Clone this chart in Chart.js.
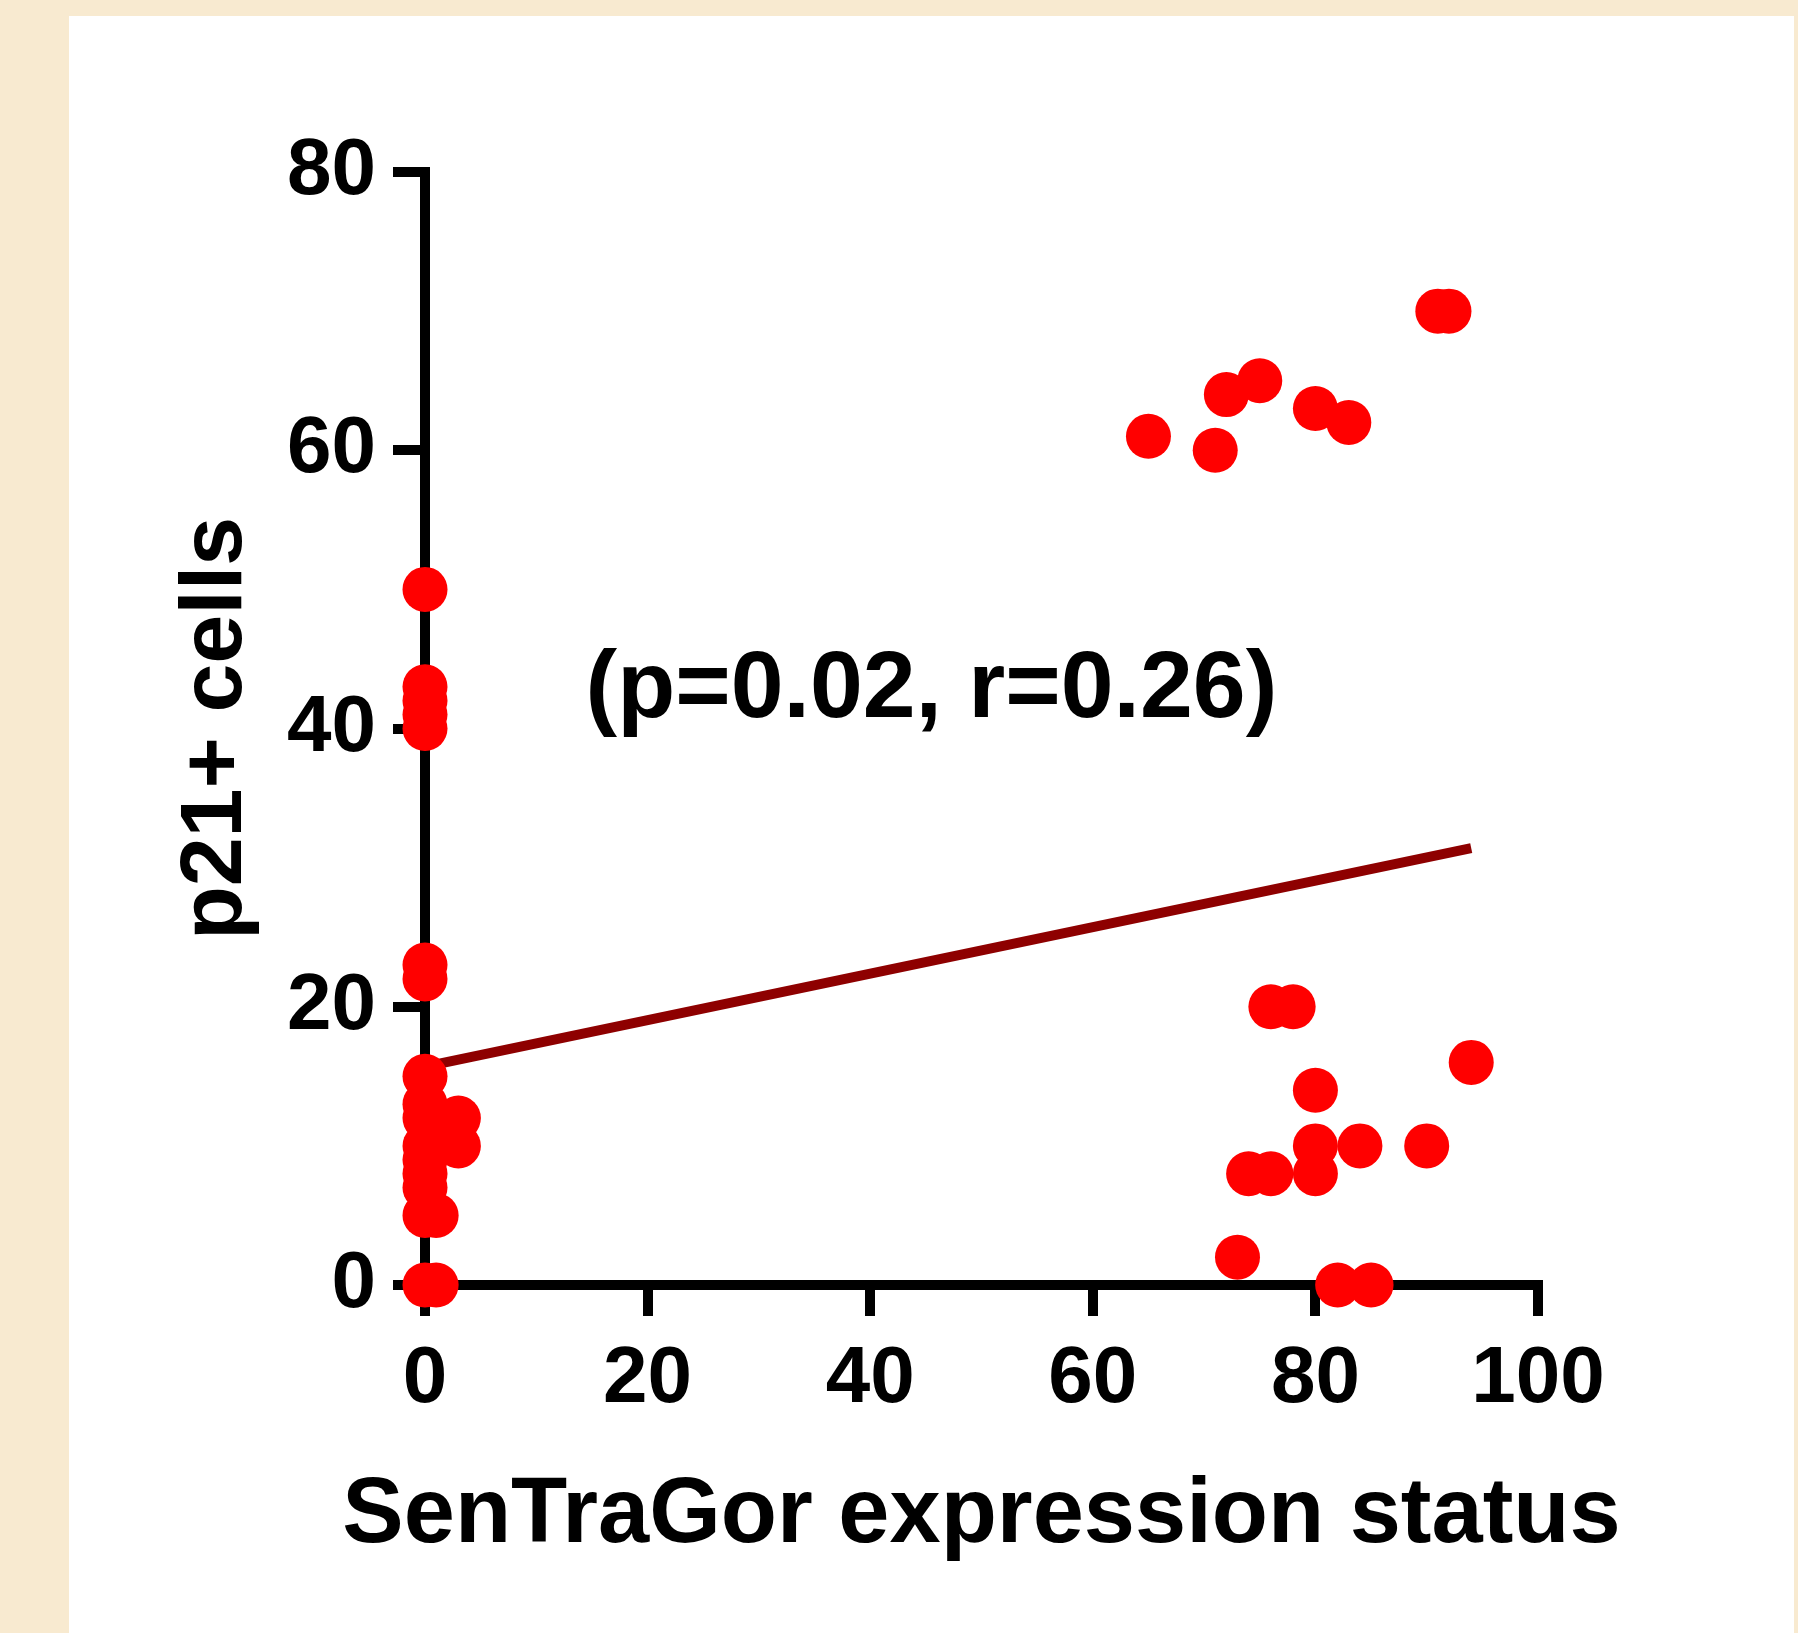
<!DOCTYPE html>
<html><head><meta charset="utf-8">
<script src="https://cdn.jsdelivr.net/npm/chart.js@4.4.1/dist/chart.umd.min.js"></script>
<style>
html,body{margin:0;padding:0;width:1798px;height:1633px;overflow:hidden;background:#f8ead0;}
#panel{position:absolute;left:69px;top:16px;width:1725px;height:1617px;background:#ffffff;}
#c{position:absolute;left:0;top:0;}
</style></head><body>
<div id="panel"></div>
<canvas id="c" width="1798" height="1633"></canvas>
<script>
// ---- data ----
const xValues = [0, 0, 0, 0, 0, 0, 0, 0, 0, 0, 0, 0, 0, 0, 3, 3, 0, 1, 0, 1,
                 65, 71, 72, 75, 80, 83, 91, 92,
                 76, 78, 94, 80, 80, 84, 90, 74, 76, 80, 73, 82, 85];
const yValues = [50, 43, 42, 41, 40, 23, 22, 15, 13, 12, 10, 9, 8, 7, 12, 10, 5, 5, 0, 0,
                 61, 60, 64, 65, 63, 62, 70, 70,
                 20, 20, 16, 14, 10, 10, 10, 8, 8, 8, 2, 0, 0];
const fitX = [0, 94];
const fitY = [15.7, 31.4];
const xTicks = [0, 20, 40, 60, 80, 100];
const yTicks = [0, 20, 40, 60, 80];
const xTitle = 'SenTraGor expression status';
const yTitle = 'p21+ cells';
const statsLabel = '(p=0.02, r=0.26)';

const FONT = '"Liberation Sans", Arial, Helvetica, sans-serif';

const points = xValues.map((x, i) => ({x: x, y: yValues[i]}));
const fitLine = fitX.map((x, i) => ({x: x, y: fitY[i]}));

// Text drawn as real canvas text: the stats label, and the x-axis title
// (drawn here because Chart.js squeezes an axis title to the axis width).
const textPlugin = {
  id: 'texts',
  afterDraw(chart) {
    const {ctx, scales} = chart;
    const xs = scales.x;
    ctx.save();
    ctx.fillStyle = '#000';
    ctx.textAlign = 'center';
    ctx.textBaseline = 'alphabetic';
    ctx.font = 'bold 95px ' + FONT;
    ctx.fillText(statsLabel, xs.getPixelForValue(45.5), scales.y.getPixelForValue(40.8));
    ctx.font = 'bold 92px ' + FONT;
    ctx.fillText(xTitle, (xs.left + xs.right) / 2, xs.bottom - 91);
    ctx.restore();
  }
};

new Chart(document.getElementById('c'), {
  type: 'scatter',
  data: {
    datasets: [
      {
        data: points,
        backgroundColor: '#ff0000',
        borderWidth: 0,
        pointRadius: 22.5,
        pointHoverRadius: 22.5,
        clip: false,
        order: 1
      },
      {
        data: fitLine,
        showLine: true,
        borderColor: '#8e0000',
        borderWidth: 10,
        pointRadius: 0,
        fill: false,
        clip: false,
        order: 2
      }
    ]
  },
  options: {
    responsive: false,
    animation: false,
    events: [],
    layout: {padding: {left: 173, top: 172, right: 260, bottom: 0}},
    plugins: {legend: {display: false}, tooltip: {enabled: false}},
    scales: {
      x: {
        type: 'linear',
        min: xTicks[0], max: xTicks[xTicks.length - 1],
        afterBuildTicks: s => { s.ticks = xTicks.map(v => ({value: v})); },
        afterFit: s => { s.height = 348; },
        grid: {display: true, drawOnChartArea: false, drawTicks: true, tickLength: 31, lineWidth: 10, color: '#000'},
        border: {display: true, width: 10, color: '#000'},
        ticks: {color: '#000', padding: 24, maxRotation: 0, autoSkip: false,
                font: {family: FONT, size: 80, weight: 'bold', lineHeight: 1}},
        title: {display: false}
      },
      y: {
        type: 'linear',
        min: yTicks[0], max: yTicks[yTicks.length - 1],
        afterBuildTicks: s => { s.ticks = yTicks.map(v => ({value: v})); },
        afterFit: s => { s.width = 252; },
        grid: {display: true, drawOnChartArea: false, drawTicks: true, tickLength: 32, lineWidth: 10, color: '#000'},
        border: {display: true, width: 10, color: '#000'},
        ticks: {color: '#000', padding: 17, autoSkip: false,
                font: {family: FONT, size: 80, weight: 'bold', lineHeight: 1}},
        title: {display: true, text: yTitle, color: '#000', padding: 0,
                font: {family: FONT, size: 88, weight: 'bold', lineHeight: 1}}
      }
    }
  },
  plugins: [textPlugin]
});
</script>
</body></html>
